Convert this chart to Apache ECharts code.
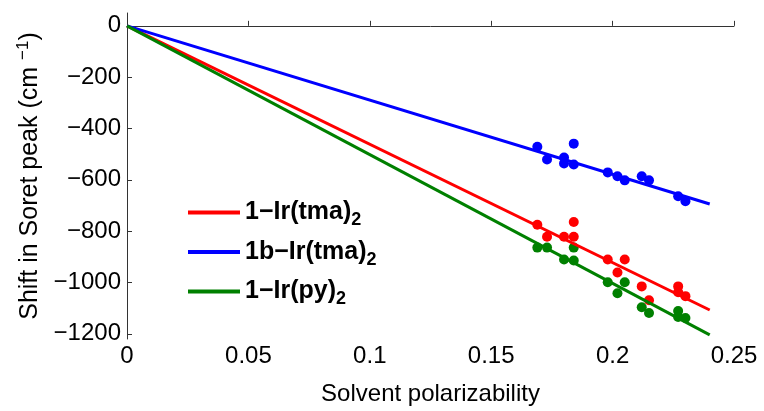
<!DOCTYPE html>
<html>
<head>
<meta charset="utf-8">
<script src="https://cdn.jsdelivr.net/npm/echarts@6/dist/echarts.min.js"></script>
<style>
  html, body { margin: 0; padding: 0; background: #fff; }
  #chart { width: 764px; height: 411px; }
</style>
</head>
<body>
<div id="chart"></div>
<script>
// legend names (subscript 2 added by formatter)
const names = ['1−Ir(tma)', '1b−Ir(tma)', '1−Ir(py)'];
const colors = ['#ff0000', '#0000ff', '#008000'];

// measured points
const redX = [0.169, 0.173, 0.180, 0.184, 0.184, 0.198, 0.202, 0.205, 0.212, 0.215, 0.227, 0.227, 0.230];
const redY = [-775, -822, -822, -822, -764, -910, -961, -910, -1015, -1069, -1015, -1038, -1053];
const blueX = [0.169, 0.173, 0.180, 0.180, 0.184, 0.184, 0.198, 0.202, 0.205, 0.212, 0.215, 0.227, 0.230];
const blueY = [-471, -521, -513, -536, -459, -540, -571, -586, -602, -586, -602, -664, -683];
const greenX = [0.169, 0.173, 0.180, 0.184, 0.184, 0.198, 0.202, 0.205, 0.212, 0.215, 0.227, 0.227, 0.230];
const greenY = [-864, -864, -910, -914, -864, -999, -1042, -999, -1096, -1119, -1111, -1134, -1138];

// linear fits through origin
const fitX = [0, 0.24];
const redFit = [0, -1107];
const blueFit = [0, -694];
const greenFit = [0, -1204];

const xTicks = [0, 0.05, 0.1, 0.15, 0.2, 0.25];
const yTicks = [-1200, -1000, -800, -600, -400, -200, 0];

const font = 'Liberation Sans, Arial, sans-serif';

function pairs(xs, ys) {
  return xs.map((x, i) => [x, ys[i]]);
}

const groups = [
  [redX, redY, redFit],
  [blueX, blueY, blueFit],
  [greenX, greenY, greenFit]
];

const series = [];
groups.forEach((g, i) => {
  series.push({
    name: 'pts' + i,
    type: 'scatter',
    data: pairs(g[0], g[1]),
    symbol: 'circle',
    symbolSize: 10,
    itemStyle: { color: colors[i], opacity: 1 },
    silent: true
  });
  series.push({
    name: names[i],
    type: 'line',
    data: pairs(fitX, g[2]),
    showSymbol: false,
    lineStyle: { color: colors[i], width: 3 },
    itemStyle: { color: colors[i] },
    silent: true
  });
});

const chart = echarts.init(document.getElementById('chart'));
chart.setOption({
  animation: false,
  backgroundColor: '#fff',
  grid: { left: 127, right: 30, top: 13, bottom: 69 },
  legend: {
    data: names,
    orient: 'vertical',
    left: 183,
    top: 195,
    icon: 'rect',
    itemWidth: 52,
    itemHeight: 4,
    itemGap: 10,
    formatter: n => '{a|' + n + '}{s|2}',
    textStyle: {
      color: '#000',
      rich: {
        // tall line so the small token can sit low as a subscript
        a: { fontSize: 25, fontWeight: 'bold', fontFamily: font, lineHeight: 34 },
        s: { fontSize: 18, fontWeight: 'bold', fontFamily: font, lineHeight: 10, verticalAlign: 'bottom' }
      }
    }
  },
  xAxis: {
    type: 'value',
    min: 0,
    max: 0.25,
    interval: 0.05,
    name: 'Solvent polarizability',
    nameLocation: 'middle',
    nameGap: 43,
    nameTextStyle: { fontSize: 24, fontFamily: font, color: '#000' },
    axisLine: { lineStyle: { color: '#333', width: 1 } },
    axisTick: { inside: true, length: 5, lineStyle: { color: '#333' } },
    axisLabel: { fontSize: 24, fontFamily: font, color: '#000', margin: 5,
                 formatter: v => String(v) },
    splitLine: { show: false }
  },
  yAxis: {
    type: 'value',
    min: -1220,
    max: 50,
    name: '{n|Shift in Soret peak (cm }{p|−1}{n|)}',
    nameLocation: 'middle',
    nameGap: 78,
    nameTextStyle: {
      color: '#000',
      rich: {
        n: { fontSize: 25, fontFamily: font, lineHeight: 30 },
        p: { fontSize: 17, fontFamily: font, lineHeight: 10, verticalAlign: 'top' }
      }
    },
    axisLine: { show: true, lineStyle: { color: '#333', width: 1 } },
    axisTick: { show: true, inside: true, length: 5, customValues: yTicks, lineStyle: { color: '#333' } },
    axisLabel: { fontSize: 24, fontFamily: font, color: '#000', margin: 6, customValues: yTicks,
                 formatter: v => String(v).replace('-', '−') },
    splitLine: { show: false }
  },
  series: series
});
</script>
</body>
</html>
